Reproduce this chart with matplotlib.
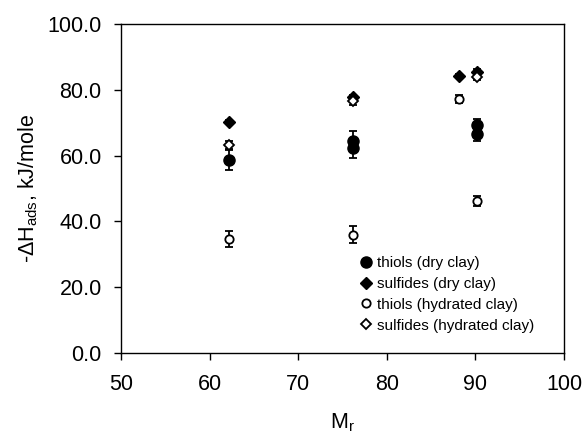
import matplotlib
matplotlib.use("Agg")
import matplotlib.pyplot as plt
from matplotlib.lines import Line2D

plt.rcParams['font.family'] = ['Liberation Sans', 'DejaVu Sans']
plt.rcParams['mathtext.fontset'] = 'custom'
plt.rcParams['mathtext.rm'] = 'Liberation Sans'
plt.rcParams['mathtext.it'] = 'Liberation Sans'

# thiols (dry clay)
thiol_dry_x = [62.13, 76.16, 76.16, 90.19, 90.19]
thiol_dry_y = [58.7, 64.5, 62.3, 69.2, 66.5]
thiol_dry_err = [3.0, 3.0, 3.0, 2.0, 2.2]

# sulfides (dry clay)
sulf_dry_x = [62.13, 76.16, 88.17, 90.19]
sulf_dry_y = [70.2, 77.7, 84.3, 85.4]
sulf_dry_err = [0.6, 0.8, 0.6, 0.8]

# thiols (hydrated clay)
thiol_hyd_x = [62.13, 76.16, 88.17, 90.19]
thiol_hyd_y = [34.7, 36.0, 77.2, 46.3]
thiol_hyd_err = [2.5, 2.5, 1.2, 1.5]

# sulfides (hydrated clay)
sulf_hyd_x = [62.13, 76.16, 90.19]
sulf_hyd_y = [63.3, 76.5, 84.0]
sulf_hyd_err = [1.2, 1.0, 1.0]

labels = ["thiols (dry clay)", "sulfides (dry clay)",
          "thiols (hydrated clay)", "sulfides (hydrated clay)"]
xticks = [50, 60, 70, 80, 90, 100]
yticks = [0, 20, 40, 60, 80, 100]

fig = plt.figure(figsize=(5.85, 4.36), dpi=100)
ax = fig.add_axes([0.207, 0.190, 0.757, 0.755])

ekw = dict(ecolor='black', elinewidth=1.3, capsize=3, capthick=1.3, linestyle='none')
ax.errorbar(thiol_dry_x, thiol_dry_y, yerr=thiol_dry_err, marker='o', ms=8,
            mfc='black', mec='black', **ekw)
ax.errorbar(sulf_dry_x, sulf_dry_y, yerr=sulf_dry_err, marker='D', ms=6,
            mfc='black', mec='black', **ekw)
ax.errorbar(thiol_hyd_x, thiol_hyd_y, yerr=thiol_hyd_err, marker='o', ms=6,
            mfc='white', mec='black', mew=1.3, **ekw)
ax.errorbar(sulf_hyd_x, sulf_hyd_y, yerr=sulf_hyd_err, marker='D', ms=5,
            mfc='white', mec='black', mew=1.3, **ekw)

ax.set_xlim(50, 100)
ax.set_ylim(0, 100)
ax.set_xticks(xticks)
ax.set_yticks(yticks)
ax.set_yticklabels([f"{v:.1f}" for v in yticks])
ax.tick_params(direction='out', length=5, width=1, labelsize=15.5, colors='black')
ax.tick_params(axis='x', pad=10)
ax.tick_params(axis='y', pad=9)
for s in ax.spines.values():
    s.set_linewidth(1.0)

ax.set_xlabel(r"M$_\mathregular{r}$", fontsize=15.5, labelpad=12)
ax.set_ylabel(r"-$\Delta$H$_\mathregular{ads}$, kJ/mole", fontsize=15.5, labelpad=5)

handles = [
    Line2D([], [], marker='o', ms=8, mfc='black', mec='black', ls='none'),
    Line2D([], [], marker='D', ms=6, mfc='black', mec='black', ls='none'),
    Line2D([], [], marker='o', ms=6, mfc='white', mec='black', mew=1.3, ls='none'),
    Line2D([], [], marker='D', ms=5, mfc='white', mec='black', mew=1.3, ls='none'),
]
ax.legend(handles, labels, loc='upper left', bbox_to_anchor=(0.54, 0.295),
          frameon=False, fontsize=11, handlelength=0.8, handletextpad=0.3,
          labelspacing=0.45, borderpad=0, borderaxespad=0)

fig.savefig("out.png", dpi=100)
